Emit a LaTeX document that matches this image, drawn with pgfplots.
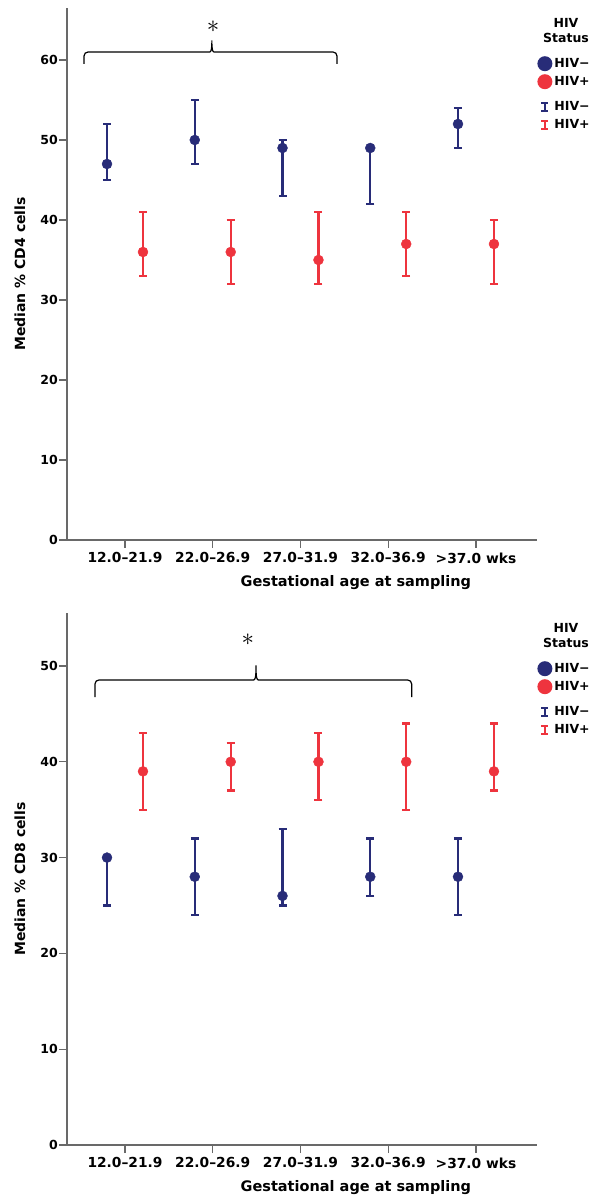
\documentclass[border=0pt]{standalone}
\usepackage{fontspec}
\setmainfont{DejaVu Sans}
\usepackage{pgfplots}
\usepackage{pgfplotstable}
\pgfplotsset{compat=1.18}

\definecolor{hivneg}{RGB}{40,44,120}
\definecolor{hivpos}{RGB}{238,52,62}
\definecolor{axisgray}{RGB}{105,105,105}

% CD4: median with range, per gestational-age group
\pgfplotstableread{
x     y   lo  hi
0.795 47  45  52
1.795 50  47  55
2.795 49  43  50
3.795 49  42  49
4.795 52  49  54
}\cdfourneg
\pgfplotstableread{
x     y   lo  hi
1.205 36  33  41
2.205 36  32  40
3.205 35  32  41
4.205 37  33  41
5.205 37  32  40
}\cdfourpos
% CD8
\pgfplotstableread{
x     y   lo  hi
0.795 30  25  30
1.795 28  24  32
2.795 26  25  33
3.795 28  26  32
4.795 28  24  32
}\cdeightneg
\pgfplotstableread{
x     y   lo  hi
1.205 39  35  43
2.205 40  37  42
3.205 40  36  43
4.205 40  35  44
5.205 39  37  44
}\cdeightpos

\pgfplotsset{
  panel/.style={
    scale only axis, width=469.7pt, height=532pt,
    xmin=0.339, xmax=5.692, ymin=0,
    axis x line*=bottom, axis y line*=left,
    axis line style={axisgray, line width=1.1pt},
    xtick={1,2,3,4,5},
    xticklabels={12.0–21.9, 22.0–26.9, 27.0–31.9, 32.0–36.9, >37.0 wks},
    tick align=outside, major tick length=8pt,
    major tick style={axisgray, line width=1.1pt},
    yticklabel style={inner sep=1pt, font=\bfseries\fontsize{12.5}{15}\selectfont},
    xticklabel style={yshift=-1pt, font=\bfseries\fontsize{13.8}{16}\selectfont},
    /pgf/number format/assume math mode=true,
    label style={font=\bfseries\fontsize{14.5}{17}\selectfont},
    xlabel style={at={(axis description cs:0.615,-0.080)}, anchor=center},
    ylabel style={at={(axis description cs:-0.100,0.5)}, anchor=center,
      font=\bfseries\fontsize{14}{17}\selectfont},
    xlabel={Gestational age at sampling},
    clip=false,
    legend style={at={(axis description cs:1.0,0.9126)}, anchor=north west,
      draw=none, fill=none, inner sep=0pt, row sep=0pt,
      font=\bfseries\fontsize{12.5}{14}\selectfont,
      nodes={inner sep=1.5pt}},
    legend cell align=left,
  },
  grp/.style={only marks, mark=*, mark size=5pt, color=#1,
    error bars/y dir=both, error bars/y explicit,
    error bars/error bar style={line width=2.3pt, #1},
    error bars/error mark=-,
    error bars/error mark options={rotate=90, line width=2.2pt, mark size=4pt, #1}},
  negdot/.style={legend image code/.code={
    \path[draw=none, fill=none] (0pt,-9pt) rectangle (16pt,9pt);
    \fill[hivneg, draw=none] (8pt,0pt) circle (7.5pt);}},
  posdot/.style={legend image code/.code={
    \path[draw=none, fill=none] (0pt,-9pt) rectangle (16pt,9pt);
    \fill[hivpos, draw=none] (8pt,0pt) circle (7.5pt);}},
  negbar/.style={legend image code/.code={
    \path[draw=none, fill=none] (0pt,-9pt) rectangle (16pt,16pt);
    \draw[hivneg, line width=2.2pt] (8pt,-4pt) -- (8pt,4pt);
    \draw[hivneg, line width=1.8pt] (4.5pt,-4pt) -- (11.5pt,-4pt) (4.5pt,4pt) -- (11.5pt,4pt);}},
  posbar/.style={legend image code/.code={
    \path[draw=none, fill=none] (0pt,-9pt) rectangle (16pt,9pt);
    \draw[hivpos, line width=2.2pt] (8pt,-4pt) -- (8pt,4pt);
    \draw[hivpos, line width=1.8pt] (4.5pt,-4pt) -- (11.5pt,-4pt) (4.5pt,4pt) -- (11.5pt,4pt);}},
}

\begin{document}
\begin{tikzpicture}
\useasboundingbox (0pt,0pt) rectangle (595pt,1195pt);

% ---- CD4 panel ----
\begin{axis}[panel, at={(67pt,655pt)}, anchor=south west,
    ymax=66.5, ytick={0,10,...,60},
    ylabel={Median \% CD4 cells}]
  \addlegendimage{negdot}\addlegendentry{HIV−}
  \addlegendimage{posdot}\addlegendentry{HIV+}
  \addlegendimage{negbar}\addlegendentry{HIV−}
  \addlegendimage{posbar}\addlegendentry{HIV+}
  \addplot[forget plot, grp=hivneg] table[x=x, y=y,
    y error plus expr=\thisrow{hi}-\thisrow{y},
    y error minus expr=\thisrow{y}-\thisrow{lo}] {\cdfourneg};
  \addplot[forget plot, grp=hivpos] table[x=x, y=y,
    y error plus expr=\thisrow{hi}-\thisrow{y},
    y error minus expr=\thisrow{y}-\thisrow{lo}] {\cdfourpos};
  % significance brace
  \draw[black, line width=1.2pt, rounded corners=4pt]
    (axis cs:0.533,59.5) -- (axis cs:0.533,61) -- (axis cs:1.92,61)
    .. controls (axis cs:1.98,61) and (axis cs:1.99,61.3) .. (axis cs:1.99,62.75)
    .. controls (axis cs:1.99,61.3) and (axis cs:2.00,61) .. (axis cs:2.06,61)
    -- (axis cs:3.416,61) -- (axis cs:3.416,59.5);
  \node[font=\fontsize{28}{28}\selectfont, inner sep=0pt] at (axis cs:2.003,64.2) {$\ast$};
  \node[font=\bfseries\fontsize{12.5}{15}\selectfont, align=center]
    at (axis description cs:1.0624,0.9577) {HIV\\Status};
\end{axis}

% ---- CD8 panel ----
\begin{axis}[panel, at={(67pt,50pt)}, anchor=south west,
    ymax=55.53, ytick={0,10,...,50},
    ylabel={Median \% CD8 cells}]
  \addlegendimage{negdot}\addlegendentry{HIV−}
  \addlegendimage{posdot}\addlegendentry{HIV+}
  \addlegendimage{negbar}\addlegendentry{HIV−}
  \addlegendimage{posbar}\addlegendentry{HIV+}
  \addplot[forget plot, grp=hivneg] table[x=x, y=y,
    y error plus expr=\thisrow{hi}-\thisrow{y},
    y error minus expr=\thisrow{y}-\thisrow{lo}] {\cdeightneg};
  \addplot[forget plot, grp=hivpos] table[x=x, y=y,
    y error plus expr=\thisrow{hi}-\thisrow{y},
    y error minus expr=\thisrow{y}-\thisrow{lo}] {\cdeightpos};
  \draw[black, line width=1.2pt, rounded corners=4pt]
    (axis cs:0.658,46.76) -- (axis cs:0.658,48.54) -- (axis cs:2.42,48.54)
    .. controls (axis cs:2.483,48.54) and (axis cs:2.493,48.8) .. (axis cs:2.493,50.31)
    .. controls (axis cs:2.493,48.8) and (axis cs:2.503,48.54) .. (axis cs:2.566,48.54)
    -- (axis cs:4.267,48.54) -- (axis cs:4.267,46.76);
  \node[font=\fontsize{28}{28}\selectfont, inner sep=0pt] at (axis cs:2.40,52.7) {$\ast$};
  \node[font=\bfseries\fontsize{12.5}{15}\selectfont, align=center]
    at (axis description cs:1.0624,0.9577) {HIV\\Status};
\end{axis}
\end{tikzpicture}
\end{document}
